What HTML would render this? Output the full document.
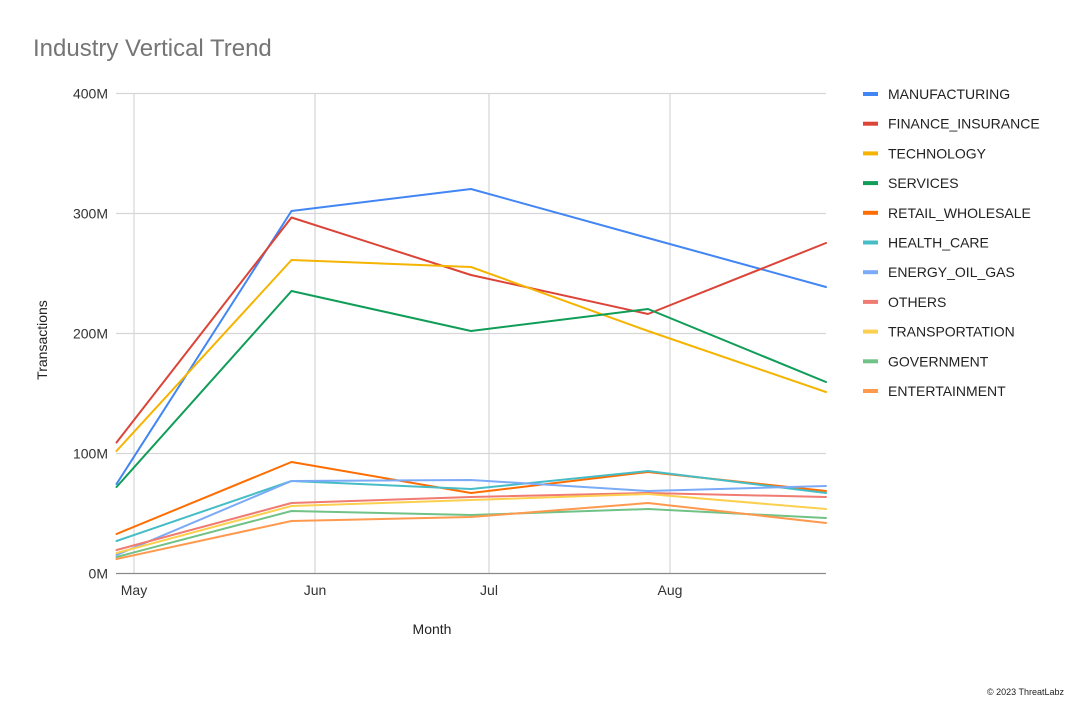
<!DOCTYPE html>
<html>
<head>
<meta charset="utf-8">
<style>
  html, body { margin:0; padding:0; background:#fff; }
  body { width:1080px; height:711px; overflow:hidden; }
  svg { display:block; font-family:"Liberation Sans", Arial, sans-serif; }
</style>
</head>
<body>
<svg width="1080" height="711" viewBox="0 0 1080 711" xmlns="http://www.w3.org/2000/svg">
  <rect x="0" y="0" width="1080" height="711" fill="#fff"/>
  <!-- Title -->
  <text x="33" y="56" font-size="24" fill="#757575">Industry Vertical Trend</text>

  <!-- Gridlines -->
  <g stroke="#d6d6d6" stroke-width="1.2" fill="none">
    <line x1="116" y1="93.5" x2="826" y2="93.5"/>
    <line x1="116" y1="213.5" x2="826" y2="213.5"/>
    <line x1="116" y1="333.5" x2="826" y2="333.5"/>
    <line x1="116" y1="453.5" x2="826" y2="453.5"/>
    <line x1="134" y1="93" x2="134" y2="573"/>
    <line x1="315" y1="93" x2="315" y2="573"/>
    <line x1="489" y1="93" x2="489" y2="573"/>
    <line x1="670" y1="93" x2="670" y2="573"/>
  </g>
  <line x1="116" y1="573.5" x2="826" y2="573.5" stroke="#8a8a8a" stroke-width="1.3"/>

  <!-- Y tick labels -->
  <g font-size="14" fill="#333" text-anchor="end">
    <text x="108" y="98.5">400M</text>
    <text x="108" y="218.5">300M</text>
    <text x="108" y="338.5">200M</text>
    <text x="108" y="458.5">100M</text>
    <text x="108" y="578.5">0M</text>
  </g>
  <!-- X tick labels -->
  <g font-size="14" fill="#333" text-anchor="middle">
    <text x="134" y="595">May</text>
    <text x="315" y="595">Jun</text>
    <text x="489" y="595">Jul</text>
    <text x="670" y="595">Aug</text>
  </g>
  <!-- Axis titles -->
  <text x="432" y="634" font-size="14" fill="#222" text-anchor="middle">Month</text>
  <text transform="translate(47,340) rotate(-90)" font-size="14" fill="#222" text-anchor="middle">Transactions</text>

  <!-- Series -->
  <g fill="none" stroke-width="2" stroke-linejoin="round" stroke-linecap="round">
    <polyline stroke="#4285F4" points="116.5,484 291.5,211 471,189 648,238 826,287"/>
    <polyline stroke="#DB4437" points="116.5,442.5 291.5,217.5 471,275 648,314 826,243"/>
    <polyline stroke="#F4B400" points="116.5,451 291.5,260 471,267 648,331 826,392"/>
    <polyline stroke="#0F9D58" points="116.5,487 291.5,291 471,331 648,309 826,382"/>
    <polyline stroke="#FF6D01" points="116.5,534 291.5,462 471,493 648,472 826,491"/>
    <polyline stroke="#46BDC6" points="116.5,541 291.5,481 471,489 648,471 826,493"/>
    <polyline stroke="#7BAAF7" points="116.5,555 291.5,481 471,480 648,491 826,486"/>
    <polyline stroke="#F07B72" points="116.5,550 291.5,503 471,497 648,493 826,497"/>
    <polyline stroke="#FCD04F" points="116.5,553 291.5,506 471,500 648,494 826,509"/>
    <polyline stroke="#71C287" points="116.5,557 291.5,511 471,515 648,509 826,518"/>
    <polyline stroke="#FF994D" points="116.5,559 291.5,521 471,517 648,503 826,523"/>
  </g>

  <!-- Legend -->
  <g font-size="14" fill="#222">
    <rect x="863" y="92" width="15" height="4" fill="#4285F4"/>
    <text x="888" y="99">MANUFACTURING</text>
    <rect x="863" y="121.7" width="15" height="4" fill="#DB4437"/>
    <text x="888" y="128.7">FINANCE_INSURANCE</text>
    <rect x="863" y="151.4" width="15" height="4" fill="#F4B400"/>
    <text x="888" y="158.4">TECHNOLOGY</text>
    <rect x="863" y="181.1" width="15" height="4" fill="#0F9D58"/>
    <text x="888" y="188.1">SERVICES</text>
    <rect x="863" y="210.8" width="15" height="4" fill="#FF6D01"/>
    <text x="888" y="217.8">RETAIL_WHOLESALE</text>
    <rect x="863" y="240.5" width="15" height="4" fill="#46BDC6"/>
    <text x="888" y="247.5">HEALTH_CARE</text>
    <rect x="863" y="270.2" width="15" height="4" fill="#7BAAF7"/>
    <text x="888" y="277.2">ENERGY_OIL_GAS</text>
    <rect x="863" y="299.9" width="15" height="4" fill="#F07B72"/>
    <text x="888" y="306.9">OTHERS</text>
    <rect x="863" y="329.6" width="15" height="4" fill="#FCD04F"/>
    <text x="888" y="336.6">TRANSPORTATION</text>
    <rect x="863" y="359.3" width="15" height="4" fill="#71C287"/>
    <text x="888" y="366.3">GOVERNMENT</text>
    <rect x="863" y="389" width="15" height="4" fill="#FF994D"/>
    <text x="888" y="396">ENTERTAINMENT</text>
  </g>

  <!-- Footer -->
  <text x="1064" y="695" font-size="9" fill="#222" text-anchor="end">© 2023 ThreatLabz</text>
</svg>
</body>
</html>
